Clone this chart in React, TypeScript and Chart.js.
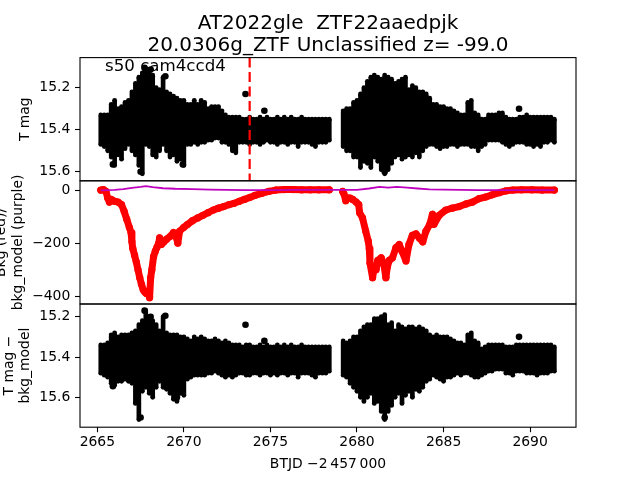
import React, { useEffect, useRef } from 'react';
import { Chart, registerables } from 'chart.js';

Chart.register(...registerables);

// ---------------- text ----------------
const TITLE_LINES = ['AT2022gle  ZTF22aaedpjk', '20.0306g_ZTF Unclassified z= -99.0'];
const ANNOTATION = 's50 cam4ccd4';
const X_LABEL = 'BTJD \u22122\u2009457\u2009000';
const Y1_LABEL = 'T mag';
const Y2_LABEL = ['Bkg (red)/', 'bkg_model (purple)'];
const Y3_LABEL = ['T mag \u2212', 'bkg_model'];

// ---------------- axes ----------------
const X_RANGE = [2664.0, 2692.65];
const X_TICKS = [2665, 2670, 2675, 2680, 2685, 2690];
const Y1_RANGE = [15.057, 15.643];
const Y1_TICKS = [15.2, 15.4, 15.6];
const Y2_RANGE = [-429, 35];
const Y2_TICKS = [0, -200, -400];
const Y3_RANGE = [15.137, 15.748];
const Y3_TICKS = [15.2, 15.4, 15.6];
const VLINE_T = 2673.8;

// ---------------- light curve envelopes (time bins) ----------------
const BIN_T1 = [
  2665.2, 2665.4, 2665.6, 2665.8, 2666.0, 2666.2, 2666.4, 2666.6, 2666.8, 2667.0,
  2667.2, 2667.4, 2667.6, 2667.8, 2668.0, 2668.2, 2668.4, 2668.6, 2668.8, 2669.0,
  2669.2, 2669.4, 2669.6, 2669.8, 2670.0, 2670.2, 2670.4, 2670.6, 2670.8, 2671.0,
  2671.2, 2671.4, 2671.6, 2671.8, 2672.0, 2672.2, 2672.4, 2672.6, 2672.8, 2673.0,
  2673.2, 2673.4, 2673.6, 2673.8, 2674.0, 2674.2, 2674.4, 2674.6, 2674.8, 2675.0,
  2675.2, 2675.4, 2675.6, 2675.8, 2676.0, 2676.2, 2676.4, 2676.6, 2676.8, 2677.0,
  2677.2, 2677.4, 2677.6, 2677.8, 2678.0, 2678.2, 2678.4,
];
const BIN_T2 = [
  2679.2, 2679.4, 2679.6, 2679.8, 2680.0, 2680.2, 2680.4, 2680.6, 2680.8, 2681.0,
  2681.2, 2681.4, 2681.6, 2681.8, 2682.0, 2682.2, 2682.4, 2682.6, 2682.8, 2683.0,
  2683.2, 2683.4, 2683.6, 2683.8, 2684.0, 2684.2, 2684.4, 2684.6, 2684.8, 2685.0,
  2685.2, 2685.4, 2685.6, 2685.8, 2686.0, 2686.2, 2686.4, 2686.6, 2686.8, 2687.0,
  2687.2, 2687.4, 2687.6, 2687.8, 2688.0, 2688.2, 2688.4, 2688.6, 2688.8, 2689.0,
  2689.2, 2689.4, 2689.6, 2689.8, 2690.0, 2690.2, 2690.4, 2690.6, 2690.8, 2691.0,
  2691.2, 2691.4,
];

// Panel 1: T mag (bright edge / faint edge)
const MAG_HI1 = [
  15.33, 15.33, 15.33, 15.28, 15.26, 15.30, 15.29, 15.27, 15.26, 15.22,
  15.18, 15.15, 15.13, 15.11, 15.12, 15.14, 15.20, 15.21, 15.15, 15.22,
  15.23, 15.24, 15.25, 15.26, 15.26, 15.28, 15.28, 15.26, 15.28, 15.26,
  15.27, 15.30, 15.29, 15.29, 15.29, 15.31, 15.33, 15.34, 15.34, 15.34,
  15.34, 15.35, 15.35, 15.34, 15.35, 15.35, 15.34, 15.35, 15.34, 15.35,
  15.35, 15.34, 15.35, 15.34, 15.35, 15.34, 15.35, 15.35, 15.34, 15.35,
  15.35, 15.35, 15.35, 15.35, 15.35, 15.35, 15.35,
];
const MAG_LO1 = [
  15.47, 15.48, 15.50, 15.53, 15.57, 15.52, 15.54, 15.49, 15.47, 15.50,
  15.52, 15.57, 15.61, 15.47, 15.48, 15.52, 15.53, 15.50, 15.47, 15.50,
  15.53, 15.52, 15.55, 15.54, 15.57, 15.47, 15.47, 15.46, 15.47, 15.46,
  15.46, 15.45, 15.45, 15.44, 15.44, 15.46, 15.46, 15.47, 15.50, 15.51,
  15.46, 15.46, 15.46, 15.47, 15.46, 15.46, 15.47, 15.46, 15.45, 15.46,
  15.46, 15.47, 15.46, 15.46, 15.47, 15.46, 15.46, 15.48, 15.46, 15.46,
  15.46, 15.47, 15.48, 15.46, 15.46, 15.46, 15.45,
];
const MAG_HI2 = [
  15.31, 15.30, 15.30, 15.27, 15.26, 15.23, 15.20, 15.17, 15.15, 15.14,
  15.15, 15.16, 15.14, 15.15, 15.16, 15.18, 15.17, 15.16, 15.15, 15.21,
  15.19, 15.20, 15.22, 15.22, 15.23, 15.25, 15.28, 15.28, 15.29, 15.29,
  15.30, 15.30, 15.31, 15.32, 15.33, 15.33, 15.27, 15.26, 15.32, 15.33,
  15.35, 15.35, 15.33, 15.33, 15.33, 15.32, 15.32, 15.34, 15.35, 15.35,
  15.35, 15.34, 15.34, 15.33, 15.34, 15.34, 15.34, 15.34, 15.34, 15.34,
  15.34, 15.35,
];
const MAG_LO2 = [
  15.48, 15.50, 15.50, 15.53, 15.53, 15.58, 15.55, 15.56, 15.58, 15.53,
  15.55, 15.59, 15.61, 15.59, 15.56, 15.53, 15.52, 15.54, 15.53, 15.52,
  15.53, 15.51, 15.53, 15.50, 15.48, 15.47, 15.47, 15.48, 15.49, 15.48,
  15.48, 15.47, 15.47, 15.48, 15.47, 15.47, 15.47, 15.48, 15.48, 15.50,
  15.48, 15.47, 15.45, 15.45, 15.45, 15.45, 15.46, 15.47, 15.48, 15.47,
  15.46, 15.46, 15.46, 15.47, 15.47, 15.48, 15.47, 15.48, 15.46, 15.46,
  15.45, 15.46,
];

// Panel 3: T mag - bkg_model
const DMAG_HI1 = [
  15.34, 15.34, 15.33, 15.29, 15.28, 15.30, 15.29, 15.29, 15.29, 15.28,
  15.27, 15.24, 15.22, 15.17, 15.20, 15.22, 15.24, 15.27, 15.20, 15.28,
  15.29, 15.29, 15.29, 15.30, 15.30, 15.31, 15.32, 15.30, 15.31, 15.30,
  15.31, 15.32, 15.32, 15.31, 15.32, 15.33, 15.32, 15.33, 15.34, 15.34,
  15.34, 15.35, 15.34, 15.34, 15.35, 15.35, 15.34, 15.35, 15.34, 15.35,
  15.35, 15.34, 15.35, 15.34, 15.35, 15.34, 15.35, 15.35, 15.34, 15.35,
  15.35, 15.35, 15.35, 15.35, 15.35, 15.35, 15.35,
];
const DMAG_LO1 = [
  15.48, 15.49, 15.50, 15.53, 15.54, 15.52, 15.52, 15.51, 15.52, 15.53,
  15.63, 15.71, 15.57, 15.55, 15.58, 15.60, 15.55, 15.52, 15.55, 15.56,
  15.58, 15.61, 15.62, 15.58, 15.59, 15.51, 15.50, 15.49, 15.49, 15.49,
  15.49, 15.48, 15.48, 15.47, 15.48, 15.49, 15.50, 15.49, 15.50, 15.49,
  15.48, 15.48, 15.49, 15.49, 15.48, 15.48, 15.49, 15.48, 15.48, 15.49,
  15.48, 15.49, 15.48, 15.48, 15.49, 15.48, 15.48, 15.50, 15.48, 15.48,
  15.48, 15.49, 15.50, 15.48, 15.48, 15.48, 15.47,
];
const DMAG_HI2 = [
  15.32, 15.33, 15.32, 15.30, 15.30, 15.27, 15.25, 15.24, 15.24, 15.21,
  15.21, 15.20, 15.19, 15.24, 15.23, 15.27, 15.24, 15.25, 15.26, 15.25,
  15.25, 15.26, 15.25, 15.26, 15.27, 15.29, 15.30, 15.29, 15.30, 15.30,
  15.30, 15.31, 15.32, 15.33, 15.33, 15.34, 15.29, 15.28, 15.32, 15.33,
  15.36, 15.35, 15.34, 15.34, 15.34, 15.34, 15.34, 15.35, 15.35, 15.35,
  15.34, 15.34, 15.34, 15.34, 15.34, 15.34, 15.34, 15.34, 15.34, 15.34,
  15.34, 15.35,
];
const DMAG_LO2 = [
  15.49, 15.50, 15.53, 15.55, 15.57, 15.60, 15.62, 15.60, 15.58, 15.63,
  15.62, 15.67, 15.71, 15.67, 15.64, 15.60, 15.58, 15.63, 15.59, 15.57,
  15.60, 15.56, 15.57, 15.55, 15.52, 15.51, 15.49, 15.50, 15.51, 15.52,
  15.50, 15.50, 15.49, 15.48, 15.49, 15.48, 15.48, 15.49, 15.50, 15.50,
  15.49, 15.48, 15.47, 15.47, 15.46, 15.46, 15.46, 15.48, 15.48, 15.49,
  15.47, 15.47, 15.47, 15.48, 15.48, 15.48, 15.49, 15.48, 15.48, 15.48,
  15.47, 15.47,
];

// isolated points
const OUT1_T = [2665.9, 2667.5, 2667.73, 2668.08, 2668.93, 2669.94, 2673.56, 2674.65, 2681.6, 2689.36];
const OUT1_M = [15.565, 15.6, 15.106, 15.114, 15.146, 15.565, 15.23, 15.31, 15.6, 15.3];
const OUT3_T = [2665.9, 2667.5, 2667.73, 2668.08, 2668.93, 2669.6, 2673.56, 2674.65, 2681.6, 2689.36];
const OUT3_M = [15.545, 15.7, 15.17, 15.2, 15.195, 15.6, 15.24, 15.32, 15.7, 15.3];

// ---------------- background (panel 2) ----------------
const BKG1_T = [
  2665.2, 2665.35, 2665.5, 2665.6, 2665.7, 2665.8, 2665.9, 2666.0, 2666.2, 2666.4,
  2666.55, 2666.7, 2666.85, 2666.95, 2667.0, 2667.05, 2667.15, 2667.25, 2667.35, 2667.45,
  2667.55, 2667.65, 2667.75, 2667.85, 2667.95, 2668.02, 2668.08, 2668.15, 2668.25, 2668.35,
  2668.45, 2668.55, 2668.6, 2668.7, 2668.85, 2669.0, 2669.2, 2669.4, 2669.55, 2669.65,
  2669.75, 2670.0, 2670.2, 2670.5, 2670.8, 2671.1, 2671.4, 2671.7, 2672.0, 2672.3,
  2672.6, 2672.9, 2673.2, 2673.5, 2673.8, 2674.1, 2674.5, 2674.9, 2675.3, 2675.8,
  2676.3, 2676.8, 2677.3, 2677.8, 2678.4,
];
const BKG1_V = [
  0, 2, -5, -30, -45, -35, -40, -42, -45, -55,
  -80, -110, -140, -160, -195, -220, -245, -270, -300, -330,
  -355, -375, -385, -390, -392, -405, -330, -300, -250, -230,
  -215, -200, -180, -205, -195, -185, -175, -160, -175, -200,
  -155, -140, -130, -115, -105, -95, -85, -75, -68, -62,
  -55, -50, -42, -35, -28, -20, -12, -5, 0, 2,
  2, 1, 1, 1, 1,
];
const BKG2_T = [
  2679.17, 2679.25, 2679.35, 2679.45, 2679.6, 2679.75, 2679.95, 2680.1, 2680.15, 2680.32,
  2680.5, 2680.65, 2680.71, 2680.75, 2680.9, 2681.0, 2681.1, 2681.2, 2681.4, 2681.55,
  2681.67, 2681.75, 2681.86, 2682.05, 2682.25, 2682.44, 2682.6, 2682.83, 2683.0, 2683.2,
  2683.4, 2683.6, 2683.8, 2683.98, 2684.2, 2684.36, 2684.45, 2684.75, 2685.13, 2685.5,
  2685.9, 2686.3, 2686.67, 2687.05, 2687.44, 2687.8, 2688.21, 2688.6, 2689.0, 2689.5,
  2690.1, 2690.7, 2691.4,
];
const BKG2_V = [
  -5, -15, -40, -30, -30, -35, -45, -55, -85, -105,
  -154, -192, -220, -275, -330, -290, -300, -265, -255, -280,
  -330, -290, -265, -255, -217, -205, -230, -267, -205, -170,
  -165, -180, -195, -155, -130, -91, -129, -95, -75, -68,
  -62, -52, -45, -32, -26, -18, -10, -3, 0, 1,
  1, 0, 0,
];
const MODEL_T = [
  2665.2, 2665.6, 2666.0, 2666.5, 2667.0, 2667.5, 2667.8, 2668.2, 2668.8, 2669.5,
  2670.5, 2671.5, 2672.5, 2673.5, 2674.5, 2675.5, 2676.5, 2677.5, 2678.4, 2679.2,
  2680.0, 2680.7, 2681.3, 2681.8, 2682.3, 2682.9, 2683.5, 2684.2, 2685.0, 2686.0,
  2687.0, 2688.0, 2689.0, 2690.0, 2691.4,
];
const MODEL_V = [
  -1, 0, 1, 4, 8, 12, 15, 11, 7, 5,
  4, 2, 1, 0, 0, 0, 1, 1, 1, 1,
  1, 6, 12, 9, 12, 9, 6, 3, 2, 1,
  0, 0, 0, 0, 0,
];

// ---------------- styling ----------------
const FAMILY = "'DejaVu Sans', sans-serif";
const TICK_FONT = { family: FAMILY, size: 13.9, lineHeight: 1.2 };
const BLACK = '#000000';
const RED = '#ff0000';
const PURPLE = '#bf00bf';

const pts = (ts: number[], vs: number[]) => ts.map((t, i) => ({ x: t, y: vs[i] }));
const band = (ts: number[], hi: number[], lo: number[]) => ts.map((t, i) => ({ x: t, y: [hi[i], lo[i]] }));
const fmtMag = (v: any) => Number(v).toFixed(1);
const fmtInt = (v: any) => (Number(v) < 0 ? '\u2212' + Math.abs(Number(v)) : String(v));

const yScale = (range: number[], ticks: number[], weight: number, reverse: boolean, title: any, titlePad: number, fmt: any) => ({
  type: 'linear',
  position: 'left',
  stack: 'panels',
  stackWeight: 1,
  weight,
  reverse,
  offset: false,
  min: range[0],
  max: range[1],
  afterFit: (s: any) => { s.width = 80; },
  afterBuildTicks: (s: any) => { s.ticks = ticks.map((v) => ({ value: v })); },
  ticks: { callback: fmt, padding: 4.7, color: BLACK, font: TICK_FONT, autoSkip: false, maxRotation: 0 },
  grid: { display: true, offset: false, drawOnChartArea: false, drawTicks: true, tickLength: 5, tickColor: BLACK, tickWidth: 1.1 },
  border: { display: false },
  title: { display: true, text: title, color: BLACK, font: { family: FAMILY, size: 13.9, lineHeight: 1.2 }, padding: { top: titlePad, bottom: 0 } },
});

const panelClip = {
  id: 'panelClip',
  beforeDatasetDraw(chart: any, args: any) {
    const ys = chart.scales[args.meta.yAxisID];
    const { left, right } = chart.chartArea;
    const ctx = chart.ctx;
    ctx.save();
    ctx.beginPath();
    ctx.rect(left, ys.top, right - left, ys.bottom - ys.top);
    ctx.clip();
  },
  afterDatasetDraw(chart: any) {
    chart.ctx.restore();
  },
};

const overlay = {
  id: 'overlay',
  afterDraw(chart: any) {
    const { ctx, chartArea } = chart;
    const { left, right } = chartArea;
    ctx.save();
    ctx.strokeStyle = BLACK;
    ctx.lineWidth = 1.1;
    for (const id of ['y1', 'y2', 'y3']) {
      const s = chart.scales[id];
      ctx.strokeRect(left, s.top, right - left, s.bottom - s.top);
    }
    ctx.fillStyle = BLACK;
    ctx.textAlign = 'center';
    ctx.textBaseline = 'alphabetic';
    ctx.font = `20px ${FAMILY}`;
    const cx = (left + right) / 2;
    ctx.fillText(TITLE_LINES[0], cx, 29);
    ctx.fillText(TITLE_LINES[1], cx, 50.5);
    ctx.textAlign = 'left';
    ctx.font = `16.67px ${FAMILY}`;
    ctx.fillText(ANNOTATION, 105, 71);
    ctx.restore();
  },
};

export default function App() {
  const ref = useRef<HTMLCanvasElement>(null);

  useEffect(() => {
    const canvas = ref.current;
    if (!canvas) return;

    const bandStyle = {
      type: 'bar',
      backgroundColor: BLACK,
      borderWidth: 0,
      borderSkipped: false,
      borderRadius: 1.5,
      grouped: false,
      barThickness: 4,
      order: 3,
    };
    const edgeStyle = {
      type: 'scatter',
      pointRadius: 2.4,
      pointBackgroundColor: BLACK,
      pointBorderWidth: 0,
      order: 3,
    };
    const redStyle = {
      type: 'scatter',
      yAxisID: 'y2',
      showLine: true,
      borderColor: RED,
      borderWidth: 7,
      borderCapStyle: 'round',
      borderJoinStyle: 'round',
      pointRadius: 3.6,
      pointBackgroundColor: RED,
      pointBorderWidth: 0,
      order: 2,
    };
    const dotStyle = {
      type: 'scatter',
      pointRadius: 3.3,
      pointBackgroundColor: BLACK,
      pointBorderWidth: 0,
      order: 2,
    };

    const chart = new Chart(canvas, {
      type: 'scatter',
      data: {
        datasets: [
          { ...bandStyle, yAxisID: 'y1', data: band(BIN_T1, MAG_HI1, MAG_LO1) },
          { ...bandStyle, yAxisID: 'y1', data: band(BIN_T2, MAG_HI2, MAG_LO2) },
          { ...bandStyle, yAxisID: 'y3', data: band(BIN_T1, DMAG_HI1, DMAG_LO1) },
          { ...bandStyle, yAxisID: 'y3', data: band(BIN_T2, DMAG_HI2, DMAG_LO2) },
          { ...edgeStyle, yAxisID: 'y1', data: pts(BIN_T1, MAG_HI1).concat(pts(BIN_T1, MAG_LO1), pts(BIN_T2, MAG_HI2), pts(BIN_T2, MAG_LO2)) },
          { ...edgeStyle, yAxisID: 'y3', data: pts(BIN_T1, DMAG_HI1).concat(pts(BIN_T1, DMAG_LO1), pts(BIN_T2, DMAG_HI2), pts(BIN_T2, DMAG_LO2)) },
          { ...dotStyle, yAxisID: 'y1', data: pts(OUT1_T, OUT1_M) },
          { ...dotStyle, yAxisID: 'y3', data: pts(OUT3_T, OUT3_M) },
          { ...redStyle, data: pts(BKG1_T, BKG1_V) },
          { ...redStyle, data: pts(BKG2_T, BKG2_V) },
          {
            type: 'scatter', yAxisID: 'y2', data: pts(MODEL_T, MODEL_V), showLine: true,
            borderColor: PURPLE, borderWidth: 1.8, pointRadius: 0, order: 0,
          },
          {
            type: 'scatter', yAxisID: 'y1',
            data: [{ x: VLINE_T, y: Y1_RANGE[0] }, { x: VLINE_T, y: Y1_RANGE[1] }],
            showLine: true, borderColor: RED, borderWidth: 2.2, borderDash: [10, 4.5],
            pointRadius: 0, order: 0,
          },
        ] as any,
      },
      options: {
        animation: false,
        responsive: false,
        devicePixelRatio: 1,
        events: [],
        layout: { padding: { top: 57.6, right: 64, bottom: 0, left: 0 } },
        plugins: {
          legend: { display: false },
          tooltip: { enabled: false },
          title: { display: false },
        },
        scales: {
          x: {
            type: 'linear',
            position: 'bottom',
            offset: false,
            min: X_RANGE[0],
            max: X_RANGE[1],
            afterFit: (s: any) => { s.height = 52.8; },
            afterBuildTicks: (s: any) => { s.ticks = X_TICKS.map((v) => ({ value: v })); },
            ticks: { callback: (v: any) => String(v), padding: 2, color: BLACK, font: TICK_FONT, autoSkip: false, maxRotation: 0 },
            grid: { display: true, offset: false, drawOnChartArea: false, drawTicks: true, tickLength: 5, tickColor: BLACK, tickWidth: 1.1 },
            border: { display: false },
            title: { display: true, text: X_LABEL, color: BLACK, font: { family: FAMILY, size: 13.9, lineHeight: 1.2 }, padding: { top: 0, bottom: 7.7 } },
          },
          y1: yScale(Y1_RANGE, Y1_TICKS, 3, true, Y1_LABEL, 17.4, fmtMag),
          y2: yScale(Y2_RANGE, Y2_TICKS, 2, false, Y2_LABEL, -6.5, fmtInt),
          y3: yScale(Y3_RANGE, Y3_TICKS, 1, true, Y3_LABEL, 0.7, fmtMag),
        } as any,
      },
      plugins: [panelClip, overlay],
    } as any);

    return () => chart.destroy();
  }, []);

  return (
    <div style={{ position: 'fixed', left: 0, top: 0, width: 640, height: 480, background: '#ffffff' }}>
      <canvas ref={ref} width={640} height={480} style={{ display: 'block', width: 640, height: 480 }} />
    </div>
  );
}
